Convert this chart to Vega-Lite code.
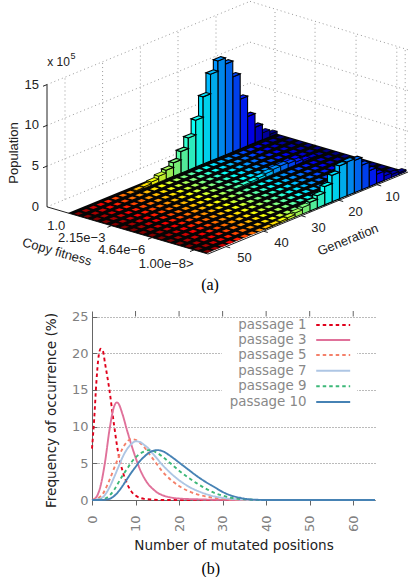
{"$schema":"https://vega.github.io/schema/vega-lite/v6.json","padding":0,"background":"white","spacing":11,"bounds":"flush","config":{"view":{"stroke":null},"axis":{"labelFont":"DejaVu Sans","titleFont":"DejaVu Sans"},"axisY":{"tickCount":6}},
"datasets":{
"lines":[
{"kind":"grid","u1":0,"v1":-0.15,"z1":0,"u2":1.015,"v2":-0.15,"z2":0},
{"kind":"grid","u1":0,"v1":-0.15,"z1":5,"u2":1.015,"v2":-0.15,"z2":5},
{"kind":"grid","u1":0,"v1":-0.15,"z1":10,"u2":1.015,"v2":-0.15,"z2":10},
{"kind":"grid","u1":0,"v1":-0.15,"z1":15,"u2":1.015,"v2":-0.15,"z2":15},
{"kind":"grid","u1":1.015,"v1":-0.15,"z1":5,"u2":1,"v2":1,"z2":5},
{"kind":"grid","u1":1.015,"v1":-0.15,"z1":10,"u2":1,"v2":1,"z2":10},
{"kind":"grid","u1":1.015,"v1":-0.15,"z1":15,"u2":1,"v2":1,"z2":15},
{"kind":"grid","u1":0.09,"v1":-0.15,"z1":0,"u2":0.09,"v2":-0.15,"z2":15},
{"kind":"grid","u1":0.278,"v1":-0.15,"z1":0,"u2":0.278,"v2":-0.15,"z2":15},
{"kind":"grid","u1":0.467,"v1":-0.15,"z1":0,"u2":0.467,"v2":-0.15,"z2":15},
{"kind":"grid","u1":0.655,"v1":-0.15,"z1":0,"u2":0.655,"v2":-0.15,"z2":15},
{"kind":"grid","u1":0.845,"v1":-0.15,"z1":0,"u2":0.845,"v2":-0.15,"z2":15},
{"kind":"grid","u1":1,"v1":0.05,"z1":0,"u2":1,"v2":0.05,"z2":15},
{"kind":"grid","u1":1,"v1":0.336,"z1":0,"u2":1,"v2":0.336,"z2":15},
{"kind":"grid","u1":1,"v1":0.629,"z1":0,"u2":1,"v2":0.629,"z2":15},
{"kind":"grid","u1":1,"v1":0.92,"z1":0,"u2":1,"v2":0.92,"z2":15},
{"kind":"grid","u1":1,"v1":0.98,"z1":0,"u2":1,"v2":0.98,"z2":15},
{"kind":"axis","u1":0,"v1":-0.15,"z1":0,"u2":0,"v2":-0.15,"z2":15},
{"kind":"axis","u1":0,"v1":-0.15,"z1":0,"u2":0,"v2":1,"z2":0},
{"kind":"axis","u1":0,"v1":1,"z1":0,"u2":1,"v2":1,"z2":0},
{"kind":"axis","u1":0,"v1":-0.15,"z1":5,"u2":-0.02,"v2":-0.15,"z2":5},
{"kind":"axis","u1":0,"v1":-0.15,"z1":10,"u2":-0.02,"v2":-0.15,"z2":10},
{"kind":"axis","u1":0,"v1":-0.15,"z1":15,"u2":-0.02,"v2":-0.15,"z2":15},
{"kind":"axis","u1":0.09,"v1":1,"z1":0,"u2":0.09,"v2":1.03,"z2":0},
{"kind":"axis","u1":0.278,"v1":1,"z1":0,"u2":0.278,"v2":1.03,"z2":0},
{"kind":"axis","u1":0.467,"v1":1,"z1":0,"u2":0.467,"v2":1.03,"z2":0},
{"kind":"axis","u1":0.655,"v1":1,"z1":0,"u2":0.655,"v2":1.03,"z2":0},
{"kind":"axis","u1":0.845,"v1":1,"z1":0,"u2":0.845,"v2":1.03,"z2":0},
{"kind":"axis","u1":0,"v1":0.31,"z1":0,"u2":-0.02,"v2":0.31,"z2":0},
{"kind":"axis","u1":0,"v1":0.6,"z1":0,"u2":-0.02,"v2":0.6,"z2":0},
{"kind":"axis","u1":0,"v1":0.9,"z1":0,"u2":-0.02,"v2":0.9,"z2":0}
],
"bars":[
{"gen":2,"bin":[1,3,5,7,9,11,13,15,17,19,21,23,25,27,29],"pop":0},
{"gen":4,"bin":[1,3,5,7,9,11,13,15,17,19,21,23,25,27,29],"pop":0},
{"gen":6,"bin":[1,3,5,7,9,11,13,15,17,19,21,23,25,27,29],"pop":0},
{"gen":8,"bin":[1,3,5,7,9,11,13,15,17,19,21,23,25,27,29],"pop":0},
{"gen":10,"bin":[1,3,5,7,9,11,13,15,17,19,21,23,25,27,29],"pop":0},
{"gen":12,"bin":[1,3,5,7,9,11,13,15,17,19,21,23,25,27,29],"pop":0},
{"gen":14,"bin":[1,3,5,7,9,11,13,15,17,19,21,23,25,27,29],"pop":0},
{"gen":16,"bin":[1,3,5,7,9,11,13,15,17,19,21,23,25,27,29],"pop":0},
{"gen":18,"bin":[1,3,5,7,9,11,13,15,17,19,21,23,25,27,29],"pop":0},
{"gen":20,"bin":[1,3,5,7,9,11,13,15,17,19,21,23,25,27,29],"pop":0},
{"gen":22,"bin":[1,3,5,7,9,11,13,15,17,19,21,23,25,27,29],"pop":0},
{"gen":24,"bin":[1,3,5,7,9,11,13,15,17,19,21,23,25,27,29],"pop":0},
{"gen":26,"bin":[1,3,5,7,9,11,13,15,17,19,21,23,25,27,29],"pop":0},
{"gen":28,"bin":[1,3,5,7,9,11,13,15,17,19,21,23,25,27,29],"pop":0},
{"gen":30,"bin":[1,3,5,7,9,11,13,15,17,19,21,23,25,27,29],"pop":0},
{"gen":32,"bin":[1,3,5,7,9,11,13,15,17,19,21,23,25,27,29],"pop":0},
{"gen":34,"bin":[1,3,5,7,9,11,13,15,17,19,21,23,25,27,29],"pop":0},
{"gen":36,"bin":[1,3,5,7,9,11,13,15,17,19,21,23,25,27,29],"pop":0},
{"gen":38,"bin":[1,3,5,7,9,11,13,15,17,19,21,23,25,27,29],"pop":0},
{"gen":40,"bin":[1,3,5,7,9,11,13,15,17,19,21,23,25,27,29],"pop":0},
{"gen":42,"bin":[1,3,5,7,9,11,13,15,17,19,21,23,25,27,29],"pop":0},
{"gen":44,"bin":[1,3,5,7,9,11,13,15,17,19,21,23,25,27,29],"pop":0},
{"gen":46,"bin":[1,3,5,7,9,11,13,15,17,19,21,23,25,27,29],"pop":0},
{"gen":48,"bin":[1,3,5,7,9,11,13,15,17,19,21,23,25,27,29],"pop":0},
{"gen":50,"bin":[1,3,5,7,9,11,13,15,17,19,21,23,25,27,29],"pop":0},
{"gen":52,"bin":[1,3,5,7,9,11,13,15,17,19,21,23,25,27,29],"pop":0},
{"gen":54,"bin":[1,3,5,7,9,11,13,15,17,19,21,23,25,27,29],"pop":0},
{"gen":2,"bin":[1],"pop":0.3},{"gen":2,"bin":[29],"pop":0.2},
{"gen":4,"bin":[1],"pop":0.85},{"gen":4,"bin":[29],"pop":0.35},
{"gen":6,"bin":[1],"pop":1.9},{"gen":6,"bin":[13],"pop":0.1},{"gen":6,"bin":[29],"pop":0.55},
{"gen":8,"bin":[1],"pop":3.6},{"gen":8,"bin":[13],"pop":0.2},{"gen":8,"bin":[29],"pop":1.15},
{"gen":10,"bin":[1],"pop":6.1},{"gen":10,"bin":[13],"pop":0.35},{"gen":10,"bin":[29],"pop":1.95},
{"gen":12,"bin":[1],"pop":9.2},{"gen":12,"bin":[13],"pop":0.55},{"gen":12,"bin":[29],"pop":3.0},
{"gen":14,"bin":[1],"pop":11.15},{"gen":14,"bin":[13],"pop":0.65},{"gen":14,"bin":[29],"pop":3.95},
{"gen":16,"bin":[1],"pop":11.9},{"gen":16,"bin":[13],"pop":0.6},{"gen":16,"bin":[29],"pop":4.15},
{"gen":18,"bin":[1],"pop":10.65},{"gen":18,"bin":[13],"pop":0.45},{"gen":18,"bin":[29],"pop":4.05},
{"gen":20,"bin":[1],"pop":8.25},{"gen":20,"bin":[13],"pop":0.3},{"gen":20,"bin":[29],"pop":3.25},
{"gen":22,"bin":[1],"pop":5.75},{"gen":22,"bin":[13],"pop":0.2},{"gen":22,"bin":[29],"pop":2.25},
{"gen":24,"bin":[1],"pop":3.95},{"gen":24,"bin":[13],"pop":0.15},{"gen":24,"bin":[29],"pop":1.5},
{"gen":26,"bin":[1],"pop":2.65},{"gen":26,"bin":[13],"pop":0.1},{"gen":26,"bin":[29],"pop":1.05},
{"gen":28,"bin":[1],"pop":1.65},{"gen":28,"bin":[29],"pop":0.8},
{"gen":30,"bin":[1],"pop":1.1},{"gen":30,"bin":[29],"pop":0.5},
{"gen":32,"bin":[1],"pop":0.75},{"gen":32,"bin":[29],"pop":0.3},
{"gen":34,"bin":[1],"pop":0.4},{"gen":34,"bin":[29],"pop":0.2},
{"gen":36,"bin":[1],"pop":0.2},{"gen":36,"bin":[29],"pop":0.12},
{"gen":38,"bin":[1],"pop":0.1},{"gen":38,"bin":[29],"pop":0.05}
],
"ticks":[
{"axis":"z","label":"0","u":0,"v":-0.15,"z":0},{"axis":"z","label":"5","u":0,"v":-0.15,"z":5},{"axis":"z","label":"10","u":0,"v":-0.15,"z":10},{"axis":"z","label":"15","u":0,"v":-0.15,"z":15},
{"axis":"gen","label":"10","u":0.833,"v":1,"z":0},{"axis":"gen","label":"20","u":0.648,"v":1,"z":0},{"axis":"gen","label":"30","u":0.463,"v":1,"z":0},{"axis":"gen","label":"40","u":0.277,"v":1,"z":0},{"axis":"gen","label":"50","u":0.092,"v":1,"z":0},
{"axis":"fit","label":"1.0","u":-0.03,"v":0.024,"z":0},{"axis":"fit","label":"2.15e−3","u":-0.03,"v":0.31,"z":0},{"axis":"fit","label":"4.64e−6","u":-0.03,"v":0.595,"z":0},{"axis":"fit","label":"1.00e−8>","u":-0.03,"v":0.94,"z":0}
],
"notes":[
{"label":"Population","sx":14,"sy":153,"rot":-90,"fs":13},
{"label":"x 10","sx":58.5,"sy":62,"rot":0,"fs":12},
{"label":"5","sx":73,"sy":56,"rot":0,"fs":9},
{"label":"Copy fitness","sx":57,"sy":252,"rot":16,"fs":13},
{"label":"Generation","sx":348,"sy":240,"rot":-22,"fs":13}
],
"curves":[
{"n":0,"freq":7,"series":"passage 1"},{"n":0.5,"freq":11,"series":"passage 1"},{"n":1,"freq":16,"series":"passage 1"},{"n":1.5,"freq":19.5,"series":"passage 1"},{"n":2,"freq":20.6,"series":"passage 1"},{"n":2.5,"freq":20.3,"series":"passage 1"},{"n":3,"freq":18.6,"series":"passage 1"},{"n":4,"freq":15,"series":"passage 1"},{"n":5,"freq":10.5,"series":"passage 1"},{"n":6,"freq":6.5,"series":"passage 1"},{"n":7,"freq":4,"series":"passage 1"},{"n":8,"freq":2.3,"series":"passage 1"},{"n":9,"freq":1.2,"series":"passage 1"},{"n":10,"freq":0.6,"series":"passage 1"},{"n":11,"freq":0.3,"series":"passage 1"},{"n":12,"freq":0.15,"series":"passage 1"},{"n":14,"freq":0.05,"series":"passage 1"},{"n":16,"freq":0,"series":"passage 1"},{"n":65,"freq":0,"series":"passage 1"},
{"n":0,"freq":0,"series":"passage 3"},{"n":1,"freq":0.4,"series":"passage 3"},{"n":2,"freq":2,"series":"passage 3"},{"n":3,"freq":5.2,"series":"passage 3"},{"n":4,"freq":9.5,"series":"passage 3"},{"n":5,"freq":12.6,"series":"passage 3"},{"n":5.7,"freq":13.3,"series":"passage 3"},{"n":6,"freq":13.2,"series":"passage 3"},{"n":7,"freq":11.7,"series":"passage 3"},{"n":8,"freq":9.6,"series":"passage 3"},{"n":9,"freq":7.6,"series":"passage 3"},{"n":10,"freq":5.8,"series":"passage 3"},{"n":11,"freq":4.2,"series":"passage 3"},{"n":12,"freq":3,"series":"passage 3"},{"n":13,"freq":2.1,"series":"passage 3"},{"n":14,"freq":1.5,"series":"passage 3"},{"n":15,"freq":1,"series":"passage 3"},{"n":16,"freq":0.7,"series":"passage 3"},{"n":18,"freq":0.35,"series":"passage 3"},{"n":20,"freq":0.2,"series":"passage 3"},{"n":25,"freq":0.08,"series":"passage 3"},{"n":30,"freq":0.02,"series":"passage 3"},{"n":35,"freq":0,"series":"passage 3"},{"n":65,"freq":0,"series":"passage 3"},
{"n":0,"freq":0,"series":"passage 5"},{"n":2,"freq":0.5,"series":"passage 5"},{"n":4,"freq":2.7,"series":"passage 5"},{"n":5,"freq":4.2,"series":"passage 5"},{"n":6,"freq":5.7,"series":"passage 5"},{"n":7,"freq":7,"series":"passage 5"},{"n":8,"freq":7.9,"series":"passage 5"},{"n":9,"freq":8.3,"series":"passage 5"},{"n":10,"freq":8.2,"series":"passage 5"},{"n":11,"freq":7.8,"series":"passage 5"},{"n":12,"freq":7.2,"series":"passage 5"},{"n":13,"freq":6.4,"series":"passage 5"},{"n":14,"freq":5.6,"series":"passage 5"},{"n":15,"freq":4.8,"series":"passage 5"},{"n":16,"freq":4,"series":"passage 5"},{"n":18,"freq":2.8,"series":"passage 5"},{"n":20,"freq":1.9,"series":"passage 5"},{"n":22,"freq":1.25,"series":"passage 5"},{"n":24,"freq":0.8,"series":"passage 5"},{"n":26,"freq":0.5,"series":"passage 5"},{"n":28,"freq":0.3,"series":"passage 5"},{"n":30,"freq":0.15,"series":"passage 5"},{"n":32,"freq":0.07,"series":"passage 5"},{"n":35,"freq":0.02,"series":"passage 5"},{"n":40,"freq":0,"series":"passage 5"},{"n":65,"freq":0,"series":"passage 5"},
{"n":0,"freq":0,"series":"passage 7"},{"n":2,"freq":0.2,"series":"passage 7"},{"n":4,"freq":1.7,"series":"passage 7"},{"n":5,"freq":3,"series":"passage 7"},{"n":6,"freq":4.4,"series":"passage 7"},{"n":7,"freq":5.8,"series":"passage 7"},{"n":8,"freq":6.9,"series":"passage 7"},{"n":9,"freq":7.6,"series":"passage 7"},{"n":10,"freq":8,"series":"passage 7"},{"n":11,"freq":7.9,"series":"passage 7"},{"n":12,"freq":7.5,"series":"passage 7"},{"n":13,"freq":7,"series":"passage 7"},{"n":14,"freq":6.3,"series":"passage 7"},{"n":15,"freq":5.6,"series":"passage 7"},{"n":16,"freq":4.9,"series":"passage 7"},{"n":18,"freq":3.7,"series":"passage 7"},{"n":20,"freq":2.7,"series":"passage 7"},{"n":22,"freq":1.9,"series":"passage 7"},{"n":24,"freq":1.3,"series":"passage 7"},{"n":26,"freq":0.85,"series":"passage 7"},{"n":28,"freq":0.5,"series":"passage 7"},{"n":30,"freq":0.3,"series":"passage 7"},{"n":32,"freq":0.15,"series":"passage 7"},{"n":35,"freq":0.05,"series":"passage 7"},{"n":40,"freq":0,"series":"passage 7"},{"n":65,"freq":0,"series":"passage 7"},
{"n":0,"freq":0,"series":"passage 9"},{"n":2,"freq":0.05,"series":"passage 9"},{"n":4,"freq":0.6,"series":"passage 9"},{"n":5,"freq":1.3,"series":"passage 9"},{"n":6,"freq":2.3,"series":"passage 9"},{"n":7,"freq":3.3,"series":"passage 9"},{"n":8,"freq":4.2,"series":"passage 9"},{"n":9,"freq":5.1,"series":"passage 9"},{"n":10,"freq":5.8,"series":"passage 9"},{"n":11,"freq":6.3,"series":"passage 9"},{"n":12,"freq":6.6,"series":"passage 9"},{"n":13,"freq":6.8,"series":"passage 9"},{"n":14,"freq":6.7,"series":"passage 9"},{"n":15,"freq":6.4,"series":"passage 9"},{"n":16,"freq":6,"series":"passage 9"},{"n":18,"freq":5,"series":"passage 9"},{"n":20,"freq":4,"series":"passage 9"},{"n":22,"freq":3.1,"series":"passage 9"},{"n":24,"freq":2.3,"series":"passage 9"},{"n":26,"freq":1.6,"series":"passage 9"},{"n":28,"freq":1,"series":"passage 9"},{"n":30,"freq":0.6,"series":"passage 9"},{"n":32,"freq":0.3,"series":"passage 9"},{"n":35,"freq":0.1,"series":"passage 9"},{"n":40,"freq":0,"series":"passage 9"},{"n":65,"freq":0,"series":"passage 9"},
{"n":0,"freq":0,"series":"passage 10"},{"n":2,"freq":0,"series":"passage 10"},{"n":4,"freq":0.15,"series":"passage 10"},{"n":5,"freq":0.5,"series":"passage 10"},{"n":6,"freq":1.1,"series":"passage 10"},{"n":7,"freq":1.9,"series":"passage 10"},{"n":8,"freq":2.8,"series":"passage 10"},{"n":9,"freq":3.7,"series":"passage 10"},{"n":10,"freq":4.5,"series":"passage 10"},{"n":11,"freq":5.3,"series":"passage 10"},{"n":12,"freq":5.9,"series":"passage 10"},{"n":13,"freq":6.4,"series":"passage 10"},{"n":14,"freq":6.7,"series":"passage 10"},{"n":15,"freq":6.8,"series":"passage 10"},{"n":16,"freq":6.7,"series":"passage 10"},{"n":18,"freq":6,"series":"passage 10"},{"n":20,"freq":5.1,"series":"passage 10"},{"n":22,"freq":4.2,"series":"passage 10"},{"n":24,"freq":3.3,"series":"passage 10"},{"n":26,"freq":2.5,"series":"passage 10"},{"n":28,"freq":1.8,"series":"passage 10"},{"n":30,"freq":1.1,"series":"passage 10"},{"n":32,"freq":0.6,"series":"passage 10"},{"n":34,"freq":0.3,"series":"passage 10"},{"n":36,"freq":0.1,"series":"passage 10"},{"n":38,"freq":0.03,"series":"passage 10"},{"n":40,"freq":0,"series":"passage 10"},{"n":65,"freq":0,"series":"passage 10"}
],
"legendRows":[
{"series":"passage 1","row":23.84},{"series":"passage 3","row":21.8},{"series":"passage 5","row":19.75},{"series":"passage 7","row":17.6},{"series":"passage 9","row":15.5},{"series":"passage 10","row":13.35}
]
},
"vconcat":[
{"width":317,"height":300,"layer":[
{"data":{"values":[{"sx":0.6,"sy":0.6}]},"mark":{"type":"point","filled":true,"opacity":0,"size":1,"strokeWidth":0},"encoding":{"x":{"field":"sx","type":"quantitative","scale":{"domain":[92,409],"nice":false,"zero":false},"axis":null},"y":{"field":"sy","type":"quantitative","scale":{"domain":[300,0],"nice":false,"zero":false},"axis":null}}},
{"data":{"name":"lines"},"transform":[
{"calculate":"68+200*datum.u1+140*datum.v1","as":"sx1"},{"calculate":"213-82*datum.u1+41*datum.v1-8.15*datum.z1","as":"sy1"},
{"calculate":"68+200*datum.u2+140*datum.v2","as":"sx2"},{"calculate":"213-82*datum.u2+41*datum.v2-8.15*datum.z2","as":"sy2"}],
"layer":[
{"transform":[{"filter":"datum.kind=='grid'"}],"mark":{"type":"rule","color":"#999999","strokeDash":[1,3],"strokeWidth":1},"encoding":{"x":{"field":"sx1","type":"quantitative","axis":null},"y":{"field":"sy1","type":"quantitative","axis":null},"x2":{"field":"sx2"},"y2":{"field":"sy2"}}},
{"transform":[{"filter":"datum.kind=='axis'"}],"mark":{"type":"rule","color":"#222222","strokeWidth":1},"encoding":{"x":{"field":"sx1","type":"quantitative","axis":null},"y":{"field":"sy1","type":"quantitative","axis":null},"x2":{"field":"sx2"},"y2":{"field":"sy2"}}}
]},
{"data":{"values":[{"floor":"base","sx":68,"sy":213}]},"mark":{"type":"point","filled":true,"opacity":1,"fill":"#050505","strokeWidth":0,"shape":"M0,0L200,-82L338.2,-41.5L138.2,40.5Z","size":4},"encoding":{"x":{"field":"sx","type":"quantitative","axis":null},"y":{"field":"sy","type":"quantitative","axis":null}}},
{"data":{"name":"bars"},"transform":[
{"flatten":["bin"]},
{"calculate":"datum.pop>0?['A','B','T']:['T']","as":"face"},{"flatten":["face"]},
{"calculate":"(54-datum.gen)/54","as":"u"},{"calculate":"datum.bin/30.4","as":"v"},
{"calculate":"68+200*datum.u+140*datum.v","as":"sx"},{"calculate":"213-82*datum.u+41*datum.v","as":"sy"},
{"calculate":"round(datum.pop*81.5)/10","as":"h"},
{"calculate":"datum.pop==0?'M1.59,-0.58L6.03,-2.4L10.41,-1.12L5.97,0.7Z':datum.face=='T'?'M0,'+(-datum.h)+'L7.41,'+(-3.04-datum.h)+'L12.01,'+(-1.69-datum.h)+'L4.6,'+(1.35-datum.h)+'Z':datum.face=='A'?'M0,0L4.6,1.35L4.6,'+(1.35-datum.h)+'L0,'+(-datum.h)+'Z':'M4.6,1.35L12.01,-1.69L12.01,'+(-1.69-datum.h)+'L4.6,'+(1.35-datum.h)+'Z'","as":"path"},
{"calculate":"(datum.gen-2)/52","as":"t"},
{"calculate":"datum.face=='B'?0.92:1","as":"s"},
{"calculate":"datum.pop==0?0:datum.pop<1?0.8:1.1","as":"sw"},
{"calculate":"'rgb('+round(255*datum.s*clamp(1.5-abs(4*datum.t-3),0,1))+','+round(255*datum.s*clamp(1.5-abs(4*datum.t-2),0,1))+','+round(255*datum.s*clamp(1.5-abs(4*datum.t-1),0,1))+')'","as":"col"}],
"mark":{"type":"point","filled":true,"opacity":1,"stroke":"#000000","strokeJoin":"miter"},
"encoding":{"x":{"field":"sx","type":"quantitative","axis":null},"y":{"field":"sy","type":"quantitative","axis":null},"shape":{"field":"path","type":"nominal","scale":null},"size":{"value":4},"strokeWidth":{"field":"sw","type":"quantitative","scale":null},"fill":{"field":"col","type":"nominal","scale":null}}},
{"data":{"name":"ticks"},"transform":[{"calculate":"68+200*datum.u+140*datum.v","as":"sx"},{"calculate":"213-82*datum.u+41*datum.v-8.15*datum.z","as":"sy"}],
"layer":[
{"transform":[{"filter":"datum.axis=='z'"}],"mark":{"type":"text","font":"Liberation Sans","fontSize":13,"color":"#222222","align":"right","baseline":"middle","dx":-8},"encoding":{"x":{"field":"sx","type":"quantitative","axis":null},"y":{"field":"sy","type":"quantitative","axis":null},"text":{"field":"label"}}},
{"transform":[{"filter":"datum.axis=='gen'"}],"mark":{"type":"text","font":"Liberation Sans","fontSize":13,"color":"#222222","align":"center","baseline":"middle","dx":18,"dy":11.5},"encoding":{"x":{"field":"sx","type":"quantitative","axis":null},"y":{"field":"sy","type":"quantitative","axis":null},"text":{"field":"label"}}},
{"transform":[{"filter":"datum.axis=='fit'"}],"mark":{"type":"text","font":"Liberation Sans","fontSize":13,"color":"#222222","align":"right","baseline":"middle","dy":10},"encoding":{"x":{"field":"sx","type":"quantitative","axis":null},"y":{"field":"sy","type":"quantitative","axis":null},"text":{"field":"label"}}}
]},
{"data":{"name":"notes"},"mark":{"type":"text","font":"Liberation Sans","color":"#222222","align":"center","baseline":"middle"},"encoding":{"x":{"field":"sx","type":"quantitative","axis":null},"y":{"field":"sy","type":"quantitative","axis":null},"text":{"field":"label"},"angle":{"field":"rot","type":"quantitative","scale":null},"size":{"field":"fs","type":"quantitative","scale":null}}},
{"data":{"values":[{"label":"(a)","sx":210,"sy":285}]},"mark":{"type":"text","font":"Liberation Serif","fontSize":16,"color":"#000000","align":"center","baseline":"middle"},"encoding":{"x":{"field":"sx","type":"quantitative","axis":null},"y":{"field":"sy","type":"quantitative","axis":null},"text":{"field":"label"}}}
]},
{"width":283,"height":189,"layer":[
{"data":{"values":[{"xa":29.8,"xb":60.9,"ya":24.75,"yb":12}]},"mark":{"type":"rect","fill":"white"},"encoding":{"x":{"field":"xa","type":"quantitative","scale":{"domain":[0,65],"nice":false,"zero":false},"axis":{"grid":false,"labelAngle":-90,"labelColor":"#808080","labelFontSize":13,"labelPadding":10,"tickSize":5,"tickColor":"#666666","domainColor":"#666666","title":"Number of mutated positions","titleFontSize":13.6,"titleFontWeight":"normal","titleColor":"#222222","titlePadding":7}},"x2":{"field":"xb"},"y":{"field":"ya","type":"quantitative","scale":{"domain":[0,25.75],"nice":false,"zero":false},"axis":{"labelOverlap":false,"grid":true,"gridColor":"#777777","gridDash":[1,2],"labelColor":"#808080","labelFontSize":13,"labelPadding":9,"tickSize":-5,"tickColor":"#666666","domainColor":"#666666","title":"Frequency of occurrence (%)","titleFontSize":13.6,"titleFontWeight":"normal","titleColor":"#222222","titlePadding":13,"titleY":99}},"y2":{"field":"yb"}}},
{"data":{"values":[{"n":10},{"n":20},{"n":30},{"n":40},{"n":50},{"n":60}]},"mark":{"type":"rule","color":"#666666"},"encoding":{"x":{"field":"n","type":"quantitative"},"y":{"datum":25},"y2":{"datum":25.75}}},
{"data":{"name":"curves"},"mark":{"type":"line","strokeWidth":1.9,"interpolate":"monotone"},"encoding":{"x":{"field":"n","type":"quantitative"},"y":{"field":"freq","type":"quantitative"},"color":{"field":"series","type":"nominal","sort":["passage 1","passage 3","passage 5","passage 7","passage 9","passage 10"],"scale":{"domain":["passage 1","passage 3","passage 5","passage 7","passage 9","passage 10"],"range":["#e0001b","#e0719a","#f4806a","#aec6e4","#3cb878","#4682b4"]},"legend":null},"strokeDash":{"field":"series","type":"nominal","scale":{"domain":["passage 1","passage 3","passage 5","passage 7","passage 9","passage 10"],"range":[[3.5,3],[1,0],[3.5,3],[1,0],[3.5,3],[1,0]]},"legend":null}}},
{"data":{"name":"legendRows"},"mark":{"type":"text","font":"DejaVu Sans","fontSize":13.4,"color":"#888888","align":"right","baseline":"middle"},"encoding":{"x":{"datum":49.3},"y":{"field":"row","type":"quantitative"},"text":{"field":"series"}}},
{"data":{"name":"legendRows"},"mark":{"type":"rule","strokeWidth":1.9},"encoding":{"x":{"datum":51.5},"x2":{"datum":59.3},"y":{"field":"row","type":"quantitative"},"color":{"field":"series","type":"nominal","legend":null},"strokeDash":{"field":"series","type":"nominal","legend":null}}},
{"data":{"values":[{"label":"(b)"}]},"mark":{"type":"text","font":"Liberation Serif","fontSize":16,"color":"#000000","align":"center","baseline":"middle"},"encoding":{"x":{"datum":27.3},"y":{"datum":-9.4},"text":{"field":"label"}}}
]}
]}
